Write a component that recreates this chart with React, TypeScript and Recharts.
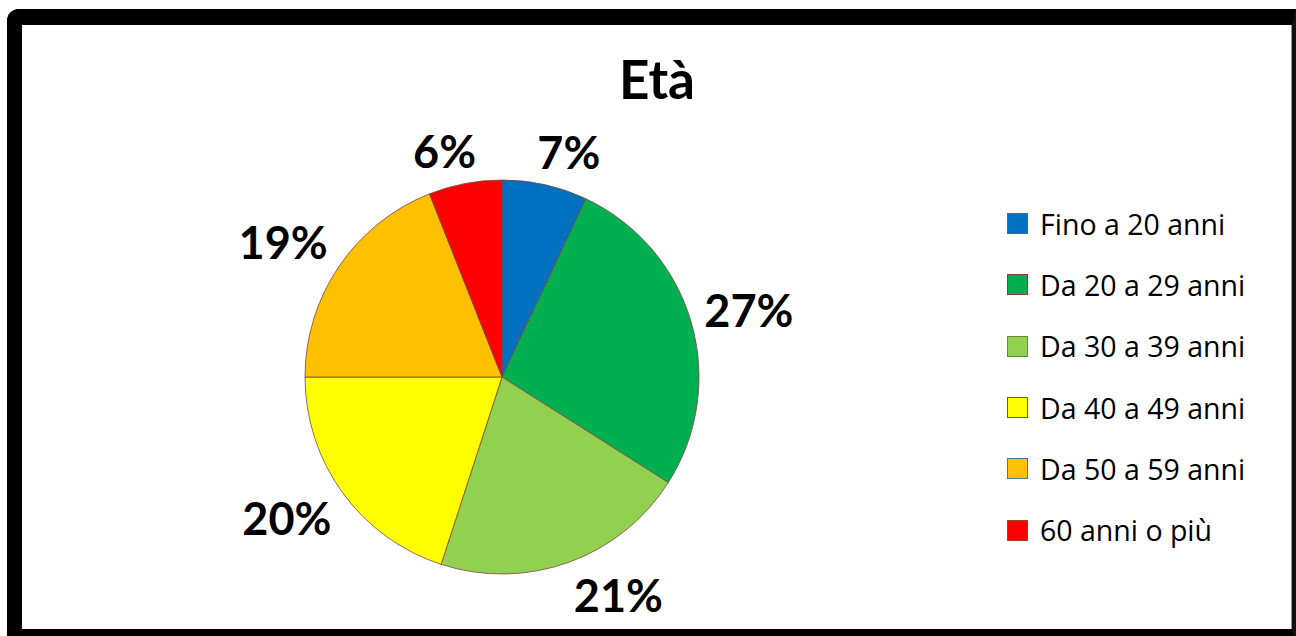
import { Cell, Legend, Pie, PieChart } from "recharts";

const categories = [
  "Fino a 20 anni",
  "Da 20 a 29 anni",
  "Da 30 a 39 anni",
  "Da 40 a 49 anni",
  "Da 50 a 59 anni",
  "60 anni o più",
];
const shares = [7, 27, 21, 20, 19, 6];
const fills = ["#0070C0", "#00B050", "#92D050", "#FFFF00", "#FFC000", "#FF0000"];
const edges = ["#3d6a9a", "#8a3b3b", "#6a8a3a", "#6a5a4a", "#4a7a8a", "#a04020"];

const data = categories.map((name, i) => ({ name, value: shares[i] }));

const FONT = "Lato, 'Open Sans', sans-serif";
const LEGEND_FONT = "'Open Sans', sans-serif";
const RAD = Math.PI / 180;
const LABEL_SIZE = 45;

// puts each percentage outside the pie, its box touching a ring just past the edge
function renderLabel(props: any) {
  const { cx, cy, midAngle, outerRadius, percent } = props;
  const text = `${Math.round(percent * 100)}%`;
  const r = outerRadius + 13;
  const s = Math.cos(midAngle * RAD); // horizontal component
  const c = Math.sin(midAngle * RAD); // vertical component (up positive)
  const px = cx + r * s;
  const py = cy - r * c;
  const w = ((text.length - 1) * 0.58 + 0.85) * LABEL_SIZE;
  const h = 40;
  const clamp = (v: number, k: number) => Math.max(-1, Math.min(1, v * k));
  const x = px + (w / 2) * clamp(s, 3);
  const y = py - (h / 2) * clamp(c, 1.5);
  return (
    <text
      x={x}
      y={y}
      textAnchor="middle"
      dominantBaseline="central"
      fontFamily={FONT}
      fontWeight={700}
      fontSize={LABEL_SIZE}
      fill="#000"
    >
      {text}
    </text>
  );
}

function LegendList() {
  return (
    <ul style={{ listStyle: "none", margin: 0, padding: 0 }}>
      {categories.map((name, i) => (
        <li
          key={name}
          style={{
            display: "flex",
            alignItems: "center",
            height: 61.3,
            fontFamily: LEGEND_FONT,
            fontSize: 28.5,
            color: "#000",
            whiteSpace: "nowrap",
          }}
        >
          <span
            style={{
              display: "inline-block",
              width: 19,
              height: 19,
              background: fills[i],
              border: `1px solid ${edges[i]}`,
              marginRight: 12,
            }}
          />
          {name}
        </li>
      ))}
    </ul>
  );
}

export default function App() {
  return (
    <div
      style={{
        position: "fixed",
        left: 0,
        top: 0,
        width: 1296,
        height: 636,
        overflow: "hidden",
        background: "#fff",
      }}
    >
      <div
        style={{
          position: "absolute",
          left: 7,
          top: 9,
          width: 1270,
          height: 604,
          borderTop: "16px solid #000",
          borderLeft: "15px solid #000",
          borderBottom: "16px solid #000",
          borderRight: "4px solid #111",
          borderTopLeftRadius: 12,
          background: "#fff",
          boxShadow: "inset -1px 0 0 #999",
        }}
      />
      <div
        style={{
          position: "absolute",
          left: 22,
          width: 1270,
          top: 50,
          textAlign: "center",
          fontFamily: FONT,
          fontWeight: 700,
          fontSize: 53,
          lineHeight: "58px",
          color: "#000",
        }}
      >
        Età
      </div>
      <div style={{ position: "absolute", left: 0, top: 0 }}>
        <PieChart width={1296} height={636} margin={{ top: 0, right: 0, bottom: 0, left: 0 }}>
          <Pie
            data={data}
            dataKey="value"
            nameKey="name"
            cx={502}
            cy={377}
            outerRadius={197}
            startAngle={90}
            endAngle={-270}
            stroke="#7a4545"
            strokeWidth={0.8}
            label={renderLabel}
            labelLine={false}
            isAnimationActive={false}
          >
            {data.map((d, i) => (
              <Cell key={d.name} fill={fills[i]} />
            ))}
          </Pie>
          <Legend
            layout="vertical"
            content={() => <LegendList />}
            wrapperStyle={{ left: 1007, top: 193, width: 285 }}
          />
        </PieChart>
      </div>
    </div>
  );
}
